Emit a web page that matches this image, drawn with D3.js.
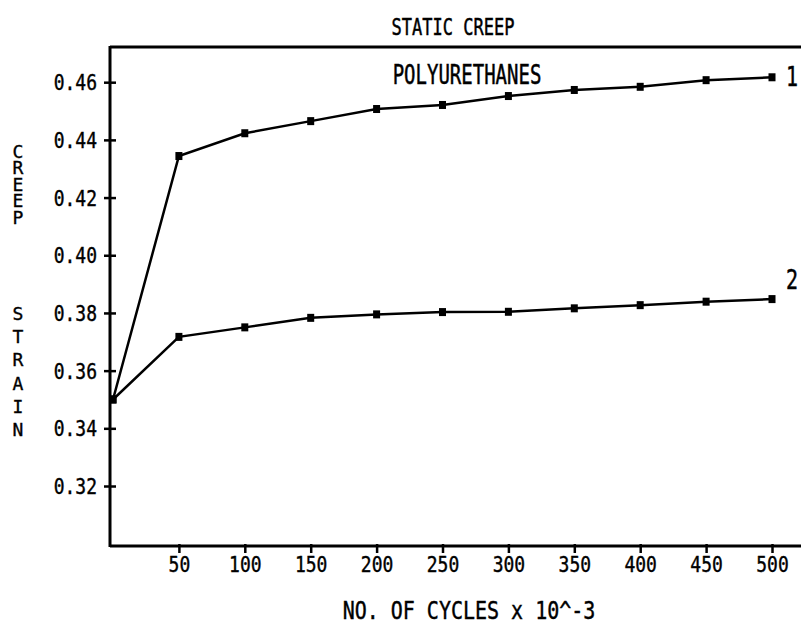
<!DOCTYPE html>
<html>
<head>
<meta charset="utf-8">
<script src="https://d3js.org/d3.v7.min.js"></script>
<style>
  html, body { margin: 0; padding: 0; background: #fff; }
  svg { display: block; }
  text { font-family: "DejaVu Sans Mono", "Liberation Mono", monospace; fill: #000; stroke: #000; stroke-width: 0.35px; }
  .vert { writing-mode: vertical-rl; text-orientation: upright; }
</style>
</head>
<body>
<div id="chart"></div>
<script>
// ---- data ----
const cycles = [0, 50, 100, 150, 200, 250, 300, 350, 400, 450, 500];
const series1 = [0.350, 0.4344, 0.4423, 0.4465, 0.4507, 0.4521, 0.4552, 0.4573, 0.4584, 0.4607, 0.4617];
const series2 = [0.350, 0.3717, 0.3750, 0.3783, 0.3795, 0.3803, 0.3804, 0.3816, 0.3827, 0.3839, 0.3848];
const seriesLabels = ["1", "2"];
const xTicks = [50, 100, 150, 200, 250, 300, 350, 400, 450, 500];
const yTicks = [0.32, 0.34, 0.36, 0.38, 0.40, 0.42, 0.44, 0.46];
const title = "STATIC CREEP";
const subtitle = "POLYURETHANES";
const xTitle = "NO. OF CYCLES x 10^-3";
const yTitleTop = "CREEP";
const yTitleBottom = "STRAIN";

const W = 801, H = 625;
const svg = d3.select("#chart").append("svg").attr("width", W).attr("height", H);

const x = d3.scaleLinear().domain([0, 522]).range([113, 801]);
const y = d3.scaleLinear().domain([0.2992, 0.4722]).range([546, 47]);

const axisLeftX = 110, topY = 47, bottomY = 546;

// frame lines
svg.append("line").attr("x1", axisLeftX).attr("x2", W).attr("y1", topY).attr("y2", topY)
  .attr("stroke", "#000").attr("stroke-width", 3);
svg.append("line").attr("x1", axisLeftX).attr("x2", W).attr("y1", bottomY).attr("y2", bottomY)
  .attr("stroke", "#000").attr("stroke-width", 3);
svg.append("line").attr("x1", axisLeftX).attr("x2", axisLeftX).attr("y1", topY - 1).attr("y2", bottomY + 1)
  .attr("stroke", "#000").attr("stroke-width", 3);

// y axis ticks via d3 axis
const yAxis = d3.axisLeft(y).tickValues(yTicks).tickSize(0).tickFormat(d3.format(".2f"));
const gy = svg.append("g").attr("transform", `translate(${axisLeftX},0)`).call(yAxis);
gy.select(".domain").remove();
gy.selectAll(".tick text").remove();
gy.selectAll(".tick").append("line").attr("x1", -6).attr("x2", 6)
  .attr("stroke", "#000").attr("stroke-width", 2.5);
gy.selectAll(".tick").append("text")
  .attr("x", -13).attr("y", 0)
  .attr("text-anchor", "end")
  .attr("transform", "scale(1,1.15)")
  .attr("dy", "0.36em")
  .style("font-size", "18px")
  .text(d => d3.format(".2f")(d));

// x axis ticks
const xAxis = d3.axisBottom(x).tickValues(xTicks).tickSize(0);
const gx = svg.append("g").attr("transform", `translate(0,${bottomY})`).call(xAxis);
gx.select(".domain").remove();
gx.selectAll(".tick text").remove();
gx.selectAll(".tick").append("line").attr("y1", -2).attr("y2", 7)
  .attr("stroke", "#000").attr("stroke-width", 2.5);
gx.selectAll(".tick").append("text")
  .attr("x", 0).attr("y", 23)
  .attr("text-anchor", "middle")
  .attr("transform", "scale(1,1.15)")
  .style("font-size", "18px")
  .text(d => d);

// lines
const line = d3.line().x((d, i) => x(cycles[i])).y(d => y(d));
[series1, series2].forEach((s, k) => {
  svg.append("path").datum(s).attr("d", line)
    .attr("fill", "none").attr("stroke", "#000").attr("stroke-width", 2.5);
  svg.selectAll(".m" + k).data(s).enter().append("rect")
    .attr("x", (d, i) => x(cycles[i]) - 3.5)
    .attr("y", d => y(d) - 4)
    .attr("width", 7).attr("height", 8)
    .attr("fill", "#000");
});

// series labels
svg.append("text").attr("x", 792).attr("y", 86 / 1.3).attr("transform", "scale(1,1.3)")
  .attr("text-anchor", "middle").style("font-size", "20px").text(seriesLabels[0]);
svg.append("text").attr("x", 792).attr("y", 289 / 1.3).attr("transform", "scale(1,1.3)")
  .attr("text-anchor", "middle").style("font-size", "20px").text(seriesLabels[1]);

// titles
svg.append("text").attr("x", 453).attr("y", 35 / 1.4).attr("transform", "scale(1,1.4)")
  .attr("text-anchor", "middle").style("font-size", "17px").text(title);
svg.append("text").attr("x", 467).attr("y", 84 / 1.4).attr("transform", "scale(1,1.4)")
  .attr("text-anchor", "middle").style("font-size", "19px").text(subtitle);
svg.append("text").attr("x", 469).attr("y", 619 / 1.2).attr("transform", "scale(1,1.2)")
  .attr("text-anchor", "middle").style("font-size", "20px").text(xTitle);

// vertical y title: stacked upright letters
svg.append("text").attr("class", "vert").attr("x", 18).attr("y", 141)
  .style("font-size", "18px").style("letter-spacing", "-4.6px").text(yTitleTop);
svg.append("text").attr("class", "vert").attr("x", 18).attr("y", 303)
  .style("font-size", "18px").style("letter-spacing", "2.2px").text(yTitleBottom);
</script>
</body>
</html>
